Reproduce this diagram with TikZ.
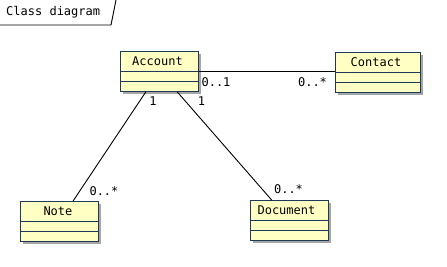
\documentclass[tikz,border=0pt]{standalone}
\usepackage{fontspec}
\setmonofont{DejaVu Sans Mono}
\usetikzlibrary{shadows}

\definecolor{classfill}{HTML}{FFFFC4}
\definecolor{classline}{HTML}{1E3A5A}

\begin{document}
\begin{tikzpicture}[x=1pt,y=-1pt]
            \tikzset{line/.style={line width=0.9pt}};
            \tikzset{umlclass/.style={rectangle, draw=classline, fill=classfill, line width=0.9pt,
                minimum height=40pt, inner sep=0pt, anchor=north west,
                drop shadow={shadow xshift=3pt, shadow yshift=-3pt, fill=black!35, opacity=1}}};
            \tikzset{mono/.style={font=\ttfamily\fontsize{12}{14}\selectfont, inner sep=0pt}};
            \useasboundingbox (0,0) rectangle (447,266);

            % frame title
            \draw[line] (0,25) -- (111,25) -- (116,0);
            \node[mono, anchor=west] (title) at (6,12.5) {Class diagram};

            % classes
            \node[umlclass, minimum width=78pt] (account) at (120,51) {};
            \node[umlclass, minimum width=85pt] (contact) at (335,52) {};
            \node[umlclass, minimum width=78pt] (note) at (20,201) {};
            \node[umlclass, minimum width=78pt] (document) at (250,200) {};

            % compartments
            \foreach \c in {account,contact,note,document} {
                \draw[classline, line width=0.9pt] ([yshift=-20.5pt]\c.north west) -- ([yshift=-20.5pt]\c.north east);
                \draw[classline, line width=0.9pt] ([yshift=-30.5pt]\c.north west) -- ([yshift=-30.5pt]\c.north east);
            }

            % class names
            \node[mono] (account-name) at ([xshift=-2pt,yshift=-10.5pt]account.north) {Account};
            \node[mono] (contact-name) at ([xshift=-2pt,yshift=-10.5pt]contact.north) {Contact};
            \node[mono] (note-name) at ([xshift=-1.5pt,yshift=-10.5pt]note.north) {Note};
            \node[mono] (document-name) at ([xshift=-3pt,yshift=-10.5pt]document.north) {Document};

            % associations
            \draw[line] (account.east) -- (account.east -| contact.west);
            \draw[line] (account) -- (note);
            \draw[line] (account) -- (document);

            % multiplicities
            \node[mono] (m-acc-con) at (216,82) {0..1};
            \node[mono] (m-con) at (312.5,82) {0..*};
            \node[mono] (m-acc-note) at (153,101) {1};
            \node[mono] (m-note) at (104,191) {0..*};
            \node[mono] (m-acc-doc) at (201.5,101) {1};
            \node[mono] (m-doc) at (288.5,189) {0..*};
        \end{tikzpicture}
\end{document}
